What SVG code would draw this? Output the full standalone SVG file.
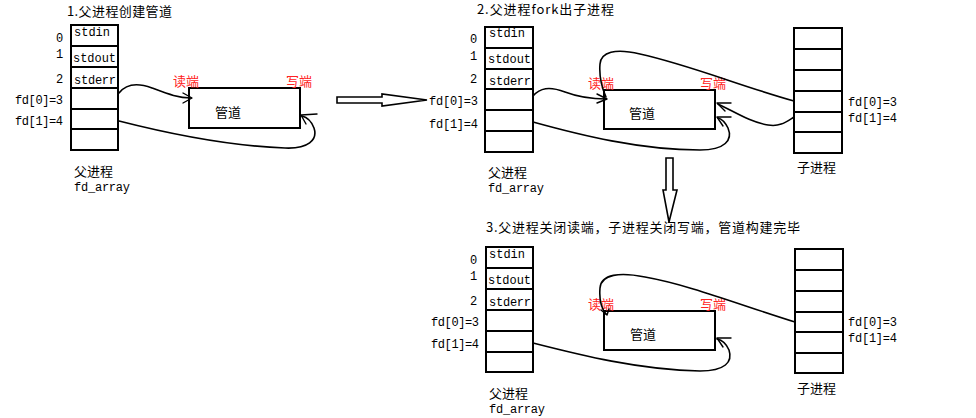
<svg xmlns="http://www.w3.org/2000/svg" width="976" height="418" viewBox="0 0 976 418">
<style>
.cell{fill:#fff;stroke:#000;stroke-width:2}
.box{fill:#fff;stroke:#000;stroke-width:2}
.c{fill:none;stroke:#000;stroke-width:1.6;stroke-linecap:round}
.h{fill:none;stroke:#000;stroke-width:1.4;stroke-linecap:round;stroke-linejoin:round}
.hollow{fill:#fff;stroke:#000;stroke-width:1.6}
.m{font-family:"Liberation Mono",monospace;font-size:12px;fill:#000}
.t{font-family:"Noto Sans CJK SC",sans-serif;font-size:13px;fill:#000}
.r{font-family:"Noto Sans CJK SC",sans-serif;font-size:13px;fill:#f22}
</style>
<rect width="976" height="418" fill="#fff"/>

<!-- titles -->
<text class="t" x="67" y="16" textLength="105" font-size="14">1.父进程创建管道</text>
<text class="t" x="477" y="14" textLength="137" font-size="14">2.父进程fork出子进程</text>
<text class="t" x="486" y="232" textLength="314">3.父进程关闭读端，子进程关闭写端，管道构建完毕</text>

<!-- panel 1 parent table -->
<g id="p1-parent">
<rect class="cell" x="71" y="25" width="47" height="21"/>
<rect class="cell" x="71" y="46" width="47" height="21"/>
<rect class="cell" x="71" y="67" width="47" height="21"/>
<rect class="cell" x="71" y="88" width="47" height="21"/>
<rect class="cell" x="71" y="109" width="47" height="20"/>
<rect class="cell" x="71" y="129" width="47" height="21"/>
<text class="m" x="74" y="36">stdin</text>
<text class="m" x="73" y="62" textLength="43">stdout</text>
<text class="m" x="74" y="84" textLength="42">stderr</text>
<text class="m" x="56" y="42">0</text>
<text class="m" x="56" y="58">1</text>
<text class="m" x="56" y="83">2</text>
<text class="m" x="15" y="104" textLength="48">fd[0]=3</text>
<text class="m" x="15" y="125" textLength="48">fd[1]=4</text>
<text class="t" x="74" y="176">父进程</text>
<text class="m" x="74" y="191" textLength="56">fd_array</text>
</g>

<g id="p1-pipe">
<rect class="box" x="189" y="88" width="111" height="40"/>
<text class="t" x="215" y="117">管道</text>
<text class="r" x="173" y="86">读端</text>
<text class="r" x="286" y="86">写端</text>
</g>

<!-- panel 2 parent table -->
<g id="p2-parent">
<rect class="cell" x="485" y="27" width="48" height="21"/>
<rect class="cell" x="485" y="48" width="48" height="21"/>
<rect class="cell" x="485" y="69" width="48" height="20"/>
<rect class="cell" x="485" y="89" width="48" height="21"/>
<rect class="cell" x="485" y="110" width="48" height="21"/>
<rect class="cell" x="485" y="131" width="48" height="21"/>
<text class="m" x="489" y="37">stdin</text>
<text class="m" x="488" y="63" textLength="43">stdout</text>
<text class="m" x="489" y="85" textLength="42">stderr</text>
<text class="m" x="470" y="43">0</text>
<text class="m" x="470" y="60">1</text>
<text class="m" x="470" y="83">2</text>
<text class="m" x="429" y="105" textLength="49">fd[0]=3</text>
<text class="m" x="429" y="128" textLength="49">fd[1]=4</text>
<text class="t" x="488" y="177">父进程</text>
<text class="m" x="488" y="192" textLength="56">fd_array</text>
</g>

<g id="p2-pipe">
<rect class="box" x="604" y="90" width="111" height="39"/>
<text class="t" x="629" y="118">管道</text>
<text class="r" x="588" y="88">读端</text>
<text class="r" x="700" y="88">写端</text>
</g>

<g id="p2-child">
<rect class="cell" x="794" y="28" width="48" height="21"/>
<rect class="cell" x="794" y="49" width="48" height="21"/>
<rect class="cell" x="794" y="70" width="48" height="21"/>
<rect class="cell" x="794" y="91" width="48" height="21"/>
<rect class="cell" x="794" y="112" width="48" height="20"/>
<rect class="cell" x="794" y="132" width="48" height="21"/>
<text class="m" x="848" y="106" textLength="49">fd[0]=3</text>
<text class="m" x="848" y="122" textLength="49">fd[1]=4</text>
<text class="t" x="797" y="172">子进程</text>
</g>

<!-- panel 3 -->
<g id="p3-parent">
<rect class="cell" x="486" y="247" width="47" height="21"/>
<rect class="cell" x="486" y="268" width="47" height="21"/>
<rect class="cell" x="486" y="289" width="47" height="21"/>
<rect class="cell" x="486" y="310" width="47" height="21"/>
<rect class="cell" x="486" y="331" width="47" height="21"/>
<rect class="cell" x="486" y="352" width="47" height="20"/>
<text class="m" x="489" y="258">stdin</text>
<text class="m" x="488" y="284" textLength="43">stdout</text>
<text class="m" x="489" y="306" textLength="42">stderr</text>
<text class="m" x="470" y="264">0</text>
<text class="m" x="470" y="280">1</text>
<text class="m" x="470" y="305">2</text>
<text class="m" x="431" y="326" textLength="48">fd[0]=3</text>
<text class="m" x="431" y="348" textLength="48">fd[1]=4</text>
<text class="t" x="489" y="398">父进程</text>
<text class="m" x="489" y="413" textLength="56">fd_array</text>
</g>

<g id="p3-pipe">
<rect class="box" x="604" y="311" width="111" height="39"/>
<text class="t" x="630" y="339">管道</text>
<text class="r" x="588" y="309">读端</text>
<text class="r" x="700" y="309">写端</text>
</g>

<g id="p3-child">
<rect class="cell" x="795" y="249" width="48" height="21"/>
<rect class="cell" x="795" y="270" width="48" height="21"/>
<rect class="cell" x="795" y="291" width="48" height="21"/>
<rect class="cell" x="795" y="312" width="48" height="20"/>
<rect class="cell" x="795" y="332" width="48" height="21"/>
<rect class="cell" x="795" y="353" width="48" height="20"/>
<text class="m" x="848" y="326" textLength="49">fd[0]=3</text>
<text class="m" x="848" y="342" textLength="49">fd[1]=4</text>
<text class="t" x="797" y="393">子进程</text>
</g>

<!-- hollow step arrows -->
<g id="step-arrows">
<path class="hollow" d="M337,97 L382,97 L382,94 L427,100 L382,106 L382,103 L337,103 Z"/>
<path class="hollow" d="M666,158 L673,158 L673,190 L677,190 L669,222 L663,190 L666,190 Z"/>
</g>

<!-- connectors -->
<g id="connectors">
<!-- panel 1 -->
<path class="c" d="M119,93 C126,84 136,82 152,88 C168,94 178,98 191,98"/>
<path class="h" d="M183,93 L192,98 L183,103"/>
<path class="c" d="M119,121 C170,134 230,146 285,148 C308,149 318,140 314,128 C311,120 306,117 302,116"/>
<path class="h" d="M317,114 L301,115 L306,124"/>
<!-- panel 2 -->
<path class="c" d="M533,96 C540,88 549,86 565,92 C581,98 592,99 606,99"/>
<path class="h" d="M597,94 L607,99 L597,103"/>
<path class="c" d="M794,101 C740,86 690,65 640,54 C615,48 601,52 600,64 C599,76 602,88 606,97"/>
<path class="c" d="M794,117 C786,122 780,127 768,125 C750,122 735,112 718,104"/>
<path class="h" d="M731,103 L717,103 L725,111"/>
<path class="c" d="M533,122 C580,135 640,150 700,150 C725,150 733,140 728,128 C725,122 722,119 718,118"/>
<path class="h" d="M731,117 L717,117 L723,126"/>
<!-- panel 3 -->
<path class="c" d="M795,322 C740,305 690,285 645,277 C620,272 601,274 600,288 C599,300 602,309 606,314"/>
<path class="h" d="M601,310 L607,315 L609,309"/>
<path class="c" d="M533,343 C580,355 640,370 700,371 C725,371 733,362 729,350 C726,343 722,340 717,339"/>
<path class="h" d="M731,338 L717,338 L723,347"/>
</g>
</svg>
